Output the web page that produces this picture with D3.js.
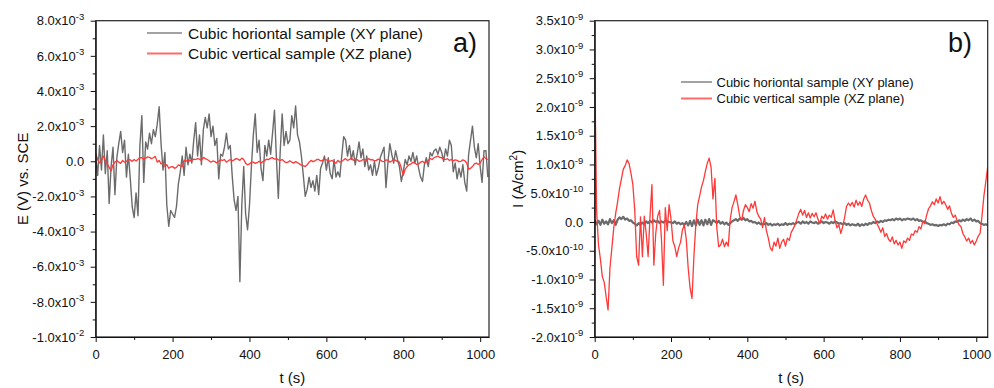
<!DOCTYPE html>
<html><head><meta charset="utf-8">
<script src="https://cdn.jsdelivr.net/npm/d3@7/dist/d3.min.js"></script>
<style>
html,body{margin:0;padding:0;background:#fff;}
svg{display:block;font-family:"Liberation Sans",Arial,sans-serif;}
</style></head>
<body><svg id="c" width="994" height="388"></svg>
<script>
// ---------- DATA ----------
// Panel a) : E (V vs SCE), values in units of 1e-3 V, sampled every 5 s from t = 0
const sampleStep = 5;
const grayLeft = [
0.3,-0.8,0.9,-0.5,1.5,-0.7,0.6,-2.4,-0.3,0.8,
-1.9,0.2,1.0,1.7,0.5,1.2,-0.9,0.4,-1.0,-2.6,
-3.2,-1.8,-3.1,0.9,2.6,-1.2,1.1,0.7,1.6,1.0,
1.8,1.4,2.1,3.1,1.0,-0.5,0.5,-2.5,-3.7,-2.8,
-3.0,-3.2,-2.6,-1.3,-0.6,0.3,-0.8,0.8,-0.2,0.4,
-0.1,1.2,2.2,0.3,1.5,-0.2,1.8,2.5,1.9,2.7,
1.4,2.0,0.9,1.3,-1.0,0.4,0.3,0.8,1.6,0.7,
0.9,-0.8,-2.2,-2.8,-2.0,-6.85,-2.5,-0.3,-3.0,-3.9,
-2.5,-0.3,1.5,2.7,0.5,1.2,-0.4,-1.1,0.9,0.3,
1.2,0.4,1.6,2.9,0.2,-2.1,0.6,2.7,0.9,1.7,
1.0,1.2,2.6,1.9,3.15,1.5,1.1,0.3,-0.8,-2.0,
-1.6,-0.9,-1.5,-1.1,-1.7,-0.8,-1.9,-0.4,-0.1,0.3,
-0.5,0.2,-0.7,-1.0,0.1,-0.9,-0.6,-0.9,0.3,1.4,
1.2,0.3,0.9,0.1,0.6,-0.2,0.4,1.1,0.2,0.7,
-0.3,0.3,-0.5,-0.2,-0.8,0.0,-0.8,-0.4,0.2,0.5,
0.8,-1.5,-0.1,1.0,0.4,-0.1,0.6,0.1,-0.3,-1.15,
-0.6,0.1,-0.2,0.3,0.0,0.5,-0.1,0.3,-0.4,-0.9,
-1.15,-0.2,0.2,-0.3,0.5,0.3,0.6,0.7,0.4,0.8,
0.5,0.0,0.7,0.3,1.2,0.9,-0.6,-0.1,-1.0,-0.4,
-0.9,-0.2,-1.2,-1.7,0.4,1.2,2.0,0.8,0.2,1.0,
-0.3,-1.2,0.6,0.6,-0.9];
const redLeft = [
0.45,0.1,-0.1,0.05,0.3,0.05,-0.15,-0.35,-0.55,-0.2,
-0.05,0.05,-0.05,-0.12,0.05,-0.05,0.0,0.1,0.08,0.0,
0.1,0.02,0.12,0.2,0.2,0.12,0.18,0.25,0.22,0.15,
0.2,0.28,-0.05,0.05,-0.15,-0.1,-0.3,-0.2,-0.4,-0.32,
-0.3,-0.4,-0.35,-0.2,-0.25,-0.3,0.05,0.0,0.08,0.02,
0.05,0.12,0.1,0.15,0.12,0.05,0.22,0.15,0.1,0.03,
-0.05,0.02,-0.02,-0.1,0.0,0.08,0.05,0.1,-0.05,0.03,
0.1,0.02,0.08,0.15,0.12,0.05,0.18,0.1,-0.12,-0.2,
-0.15,-0.05,-0.05,-0.12,-0.08,0.0,-0.1,-0.02,0.05,0.12,
0.1,0.18,0.2,0.12,0.15,0.08,0.05,0.1,0.0,-0.08,
-0.05,0.03,-0.05,-0.1,-0.02,-0.08,-0.15,-0.22,-0.25,-0.3,
-0.2,-0.05,0.05,-0.02,0.02,0.1,0.1,0.02,0.05,0.12,
0.08,0.02,0.0,0.05,-0.05,-0.1,0.05,-0.05,-0.02,0.08,
0.15,0.05,0.1,0.18,0.05,0.12,0.1,0.0,0.02,0.1,
0.1,0.05,0.15,0.08,0.1,0.02,0.05,0.12,0.08,0.0,
-0.02,0.08,0.05,-0.05,0.02,0.1,0.05,-0.02,-0.05,-0.4,
-0.8,-0.45,-0.3,-0.2,-0.15,-0.05,-0.1,-0.18,-0.15,-0.05,
0.0,-0.1,-0.05,0.05,0.15,0.1,0.2,0.25,0.3,0.22,
0.2,0.12,0.1,0.15,0.05,0.1,0.02,0.08,0.05,-0.02,
0.0,0.08,0.03,-0.1,-0.45,-0.4,-0.3,-0.15,-0.1,-0.18,
-0.1,0.1,0.25,0.15,0.1];
// Panel b) : I (A/cm2), values in units of 1e-10 A/cm2, sampled every 5 s from t = 0
const grayRight = [
0.3,-0.4,0.2,-0.5,0.4,-0.3,0.1,-0.4,0.5,-0.2,0.3,-0.5,0.4,
0.8,0.5,0.9,0.4,0.6,0.2,0.3,-0.1,
-0.3,-0.6,-0.2,-0.5,-0.1,-0.4,0.1,-0.2,0.2,-0.1,0.3,0.0,0.2,-0.2,0.1,-0.1,0.2,0.1,0.0,-0.1,
-0.2,0.1,-0.3,-0.1,-0.4,-0.2,-0.5,0.0,-0.6,0.2,-0.7,0.3,-0.6,0.4,-0.5,0.3,-0.6,0.4,-0.4,0.5,-0.5,0.3,
0.1,-0.2,0.2,-0.3,0.0,-0.4,-0.1,-0.5,-0.2,0.1,0.3,0.5,0.2,0.6,0.4,0.7,0.3,0.5,0.1,0.2,-0.1,0.0,-0.3,-0.1,-0.4,-0.3,
-0.4,-0.2,-0.5,-0.3,-0.6,-0.4,-0.5,-0.3,-0.6,-0.4,-0.5,-0.2,-0.5,-0.3,-0.4,-0.2,-0.4,-0.1,
0.0,-0.3,0.1,-0.2,0.0,-0.3,0.1,-0.1,-0.2,0.0,-0.3,-0.1,0.1,-0.2,0.0,-0.1,-0.3,0.0,-0.2,0.1,-0.1,-0.3,-0.2,-0.4,-0.2,-0.5,-0.3,-0.6,-0.4,-0.5,
-0.6,-0.3,-0.7,-0.4,-0.6,-0.3,-0.5,-0.2,-0.3,0.0,-0.2,0.1,-0.1,0.2,0.0,0.3,
0.2,0.4,0.3,0.5,0.3,0.6,0.4,0.6,0.3,0.5,0.4,0.6,0.5,0.4,0.6,0.3,0.5,0.2,0.3,0.0,0.1,-0.2,
-0.3,-0.5,-0.4,-0.6,-0.5,-0.7,-0.5,-0.6,-0.4,-0.6,-0.3,-0.4,-0.1,-0.2,0.1,0.0,
0.3,0.1,0.4,0.2,0.5,0.3,0.6,0.2,0.4,0.1,0.2,-0.2,-0.3,-0.5,-0.4,-0.6];
const redRight = [
27.2,2,-4,-6.5,-9.5,-10.5,-13,-15.3,-8,-4.5,
-1,1.5,3.5,5.8,7.5,9.2,9.8,10.8,10.2,8.5,
6.5,2,-6,-7.5,0.9,-6,1,-2,-6,1,
6.5,-7.5,-2,1,2,-3,-11,2.5,-1.5,3,
0.5,-3.3,-4.3,-6,-4.5,-3.5,-1.4,-0.5,-3,-8,
-11.5,-13.3,-6,-0.5,3,4.5,6.1,7.2,8.8,10.2,
11.1,9.5,4,7.6,-1,-4.3,-4,-3,-4.3,-3.5,
-4.2,0.3,2.5,3.5,4.7,3,1,0.3,2,3,
2.5,1.8,3.2,2.4,3.6,1.8,1,0.5,-1,0.8,
-1.5,-2.8,-4.5,-5,-3.5,-4.2,-2.8,-4.6,-3.5,-3,
-4.2,-2.8,-3.2,-1.8,-1.2,-0.5,0.5,1.5,2.2,1.2,
2.0,0.8,1.6,0.7,1.5,0.9,1.6,0.5,-0.3,1.0,
0.6,1.4,0.5,1.2,0.8,2.1,0.2,-1.0,-0.5,-2.0,
-0.8,0.8,2.7,3.3,2.8,3.4,2.6,3.8,2.9,3.5,
2.7,4.0,4.7,3.8,3.3,2.0,1.0,0.5,-0.3,-1.0,
-1.8,-1.0,-2.5,-2.0,-3.0,-3.4,-2.6,-3.8,-3.2,-4.0,
-3.5,-4.6,-3.3,-3.6,-2.8,-3.2,-2.1,-2.3,-1.5,-1.8,
-0.8,-1.2,0.1,-0.3,1.2,2.3,2.8,3.5,3.0,4.0,
3.3,4.4,3.1,3.6,3.0,2.2,2.8,1.5,0.8,1.2,
0.2,-0.5,-0.8,-2.0,-2.6,-3.3,-2.8,-3.7,-3.2,-4.0,
-3.3,-2.5,-2.0,1.0,4.5,7.0,9.6];

const seriesNames = ["Cubic horiontal sample (XY plane)", "Cubic vertical sample (XZ plane)"];
const xTicks = [0, 200, 400, 600, 800, 1000];
const xMinorTicks = [100, 300, 500, 700, 900];
const leftYTicks = [-10, -8, -6, -4, -2, 0, 2, 4, 6, 8];
const leftYLabels = ["-1.0x10|-2","-8.0x10|-3","-6.0x10|-3","-4.0x10|-3","-2.0x10|-3","0.0","2.0x10|-3","4.0x10|-3","6.0x10|-3","8.0x10|-3"];
const leftYMinor = [-9, -7, -5, -3, -1, 1, 3, 5, 7];
const rightYTicks = [-20, -15, -10, -5, 0, 5, 10, 15, 20, 25, 30, 35];
const rightYLabels = ["-2.0x10|-9","-1.5x10|-9","-1.0x10|-9","-5.0x10|-10","0.0","5.0x10|-10","1.0x10|-9","1.5x10|-9","2.0x10|-9","2.5x10|-9","3.0x10|-9","3.5x10|-9"];
const rightYMinor = [-17.5, -12.5, -7.5, -2.5, 2.5, 7.5, 12.5, 17.5, 22.5, 27.5, 32.5];

const grayColor = "#6b6b6b";
const redColor = "#ff3838";

// ---------- DRAW ----------
const svg = d3.select("#c");
const defs = svg.append("defs");

function toPts(arr){ return arr.map((v,i)=>[i*sampleStep, v]); }

function panel(cfg){
  const x = d3.scaleLinear().domain(cfg.xDomain).range([cfg.x0, cfg.x1]);
  const y = d3.scaleLinear().domain(cfg.yDomain).range([cfg.y1, cfg.y0]);
  const g = svg.append("g");
  const clipId = "clip" + cfg.id;
  defs.append("clipPath").attr("id", clipId).append("rect")
    .attr("x", cfg.x0).attr("y", cfg.y0).attr("width", cfg.x1-cfg.x0).attr("height", cfg.y1-cfg.y0);

  const line = d3.line().x(d=>x(d[0])).y(d=>y(d[1]));
  const pl = g.append("g").attr("clip-path", `url(#${clipId})`);
  cfg.series.forEach(s=>{
    pl.append("path").datum(toPts(s.data)).attr("d", line)
      .attr("fill","none").attr("stroke", s.color).attr("stroke-width", s.width)
      .attr("stroke-linejoin","round");
  });

  // frame
  g.append("rect").attr("x",cfg.x0).attr("y",cfg.y0).attr("width",cfg.x1-cfg.x0).attr("height",cfg.y1-cfg.y0)
    .attr("fill","none").attr("stroke","#222").attr("stroke-width",1.2);

  // x axis
  const xa = g.append("g").attr("transform",`translate(0,${cfg.y1})`)
    .call(d3.axisBottom(x).tickValues(xTicks).tickSize(5).tickSizeOuter(0).tickPadding(7.5).tickFormat(d3.format("d")));
  g.append("g").attr("transform",`translate(0,${cfg.y1})`)
    .call(d3.axisBottom(x).tickValues(xMinorTicks).tickSize(3).tickSizeOuter(0).tickFormat(""))
    .select(".domain").remove();
  xa.selectAll("text").attr("font-size",13).attr("font-family","Liberation Sans, Arial, sans-serif").attr("fill","#111");

  // y axis
  const ya = g.append("g").attr("transform",`translate(${cfg.x0},0)`)
    .call(d3.axisLeft(y).tickValues(cfg.yTicks).tickSize(5).tickSizeOuter(0).tickPadding(6.5).tickFormat((d,i)=>cfg.yLabels[i]));
  g.append("g").attr("transform",`translate(${cfg.x0},0)`)
    .call(d3.axisLeft(y).tickValues(cfg.yMinor).tickSize(3).tickSizeOuter(0).tickFormat(""))
    .select(".domain").remove();
  ya.selectAll("text").each(function(){
    const t = d3.select(this);
    const parts = t.text().split("|");
    t.text(null).attr("font-size",13).attr("font-family","Liberation Sans, Arial, sans-serif").attr("fill","#111");
    t.append("tspan").text(parts[0]);
    if(parts.length>1){
      t.append("tspan").attr("dy","-5.5").attr("font-size",9.5).text(parts[1]);
    }
  });
  g.selectAll(".domain").attr("stroke","#111");
  g.selectAll(".tick line").attr("stroke","#111");

  // x title
  g.append("text").attr("x",(cfg.x0+cfg.x1)/2).attr("y",383).attr("text-anchor","middle")
    .attr("font-size",15).attr("fill","#111").text("t (s)");

  // y title
  const yt = g.append("text").attr("transform",`translate(${cfg.yTitleX},${(cfg.y0+cfg.y1)/2}) rotate(-90)`)
    .attr("text-anchor","middle").attr("font-size",15).attr("fill","#111");
  cfg.yTitle.forEach(p=>{
    const ts = yt.append("tspan").text(p.t);
    if(p.sup) ts.attr("dy",-6).attr("font-size",10);
    if(p.after) ts.attr("dy",6);
  });

  // panel letter
  g.append("text").attr("x",cfg.letterX).attr("y",52).attr("font-size",27).attr("fill","#111").text(cfg.letter);

  // legend
  const lg = cfg.legend;
  cfg.series.forEach((s,i)=>{
    const yy = lg.y + i*lg.dy;
    g.append("line").attr("x1",lg.x).attr("x2",lg.x+lg.len).attr("y1",yy).attr("y2",yy)
      .attr("stroke", s.legendColor).attr("stroke-width",2);
    g.append("text").attr("x",lg.x+lg.len+lg.gap).attr("y",yy+lg.fs*0.38).attr("font-size",lg.fs).attr("fill","#111").text(seriesNames[i]);
  });
}

panel({
  id:"a", x0:95.7, x1:489, y0:20.7, y1:337,
  xDomain:[0,1023], yDomain:[-10,8],
  yTicks:leftYTicks, yLabels:leftYLabels, yMinor:leftYMinor,
  series:[{data:grayLeft,color:grayColor,width:1.4,legendColor:"#a3a3a3"},
          {data:redLeft,color:redColor,width:1.3,legendColor:"#ff6a6a"}],
  yTitle:[{t:"E (V) vs. SCE"}], yTitleX:27.5,
  letter:"a)", letterX:453,
  legend:{x:147,y:33,dy:20.5,len:35,gap:6,fs:15.5}
});
panel({
  id:"b", x0:594.7, x1:987.7, y0:20.7, y1:337,
  xDomain:[0,1030], yDomain:[-20,35],
  yTicks:rightYTicks, yLabels:rightYLabels, yMinor:rightYMinor,
  series:[{data:grayRight,color:grayColor,width:2.2,legendColor:"#a3a3a3"},
          {data:redRight,color:redColor,width:1.3,legendColor:"#ff6a6a"}],
  yTitle:[{t:"I (A/cm"},{t:"2",sup:true},{t:")",after:true}], yTitleX:523,
  letter:"b)", letterX:948,
  legend:{x:681,y:82,dy:16.5,len:31,gap:4.5,fs:13}
});
</script></body></html>
